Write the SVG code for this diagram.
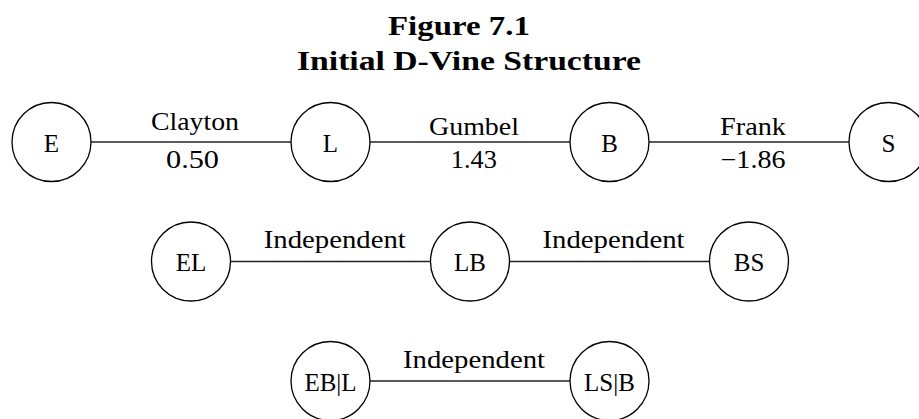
<svg xmlns="http://www.w3.org/2000/svg" width="919" height="419" viewBox="0 0 919 419">
<style>
.title{font-family:"Liberation Serif",serif;font-weight:bold;font-size:27px;fill:#000;text-anchor:middle}
.node circle{fill:#fff;stroke:#000;stroke-width:1.3}
.node text,.lbl{font-family:"Liberation Serif",serif;font-size:25px;fill:#000;text-anchor:middle}
.edges line{stroke:#222;stroke-width:1.4}
</style>
<rect width="919" height="419" fill="#fff"/>
<text class="title" x="459" y="35" textLength="142" lengthAdjust="spacingAndGlyphs">Figure 7.1</text>
<text class="title" x="469" y="70" textLength="344" lengthAdjust="spacingAndGlyphs">Initial D-Vine Structure</text>
<g id="connectors" class="edges">
<line x1="91" y1="142" x2="291" y2="142"/>
<line x1="370" y1="142" x2="570" y2="142"/>
<line x1="649" y1="142" x2="849" y2="142"/>
<line x1="230.5" y1="261.5" x2="430.5" y2="261.5"/>
<line x1="509.5" y1="261.5" x2="709.5" y2="261.5"/>
<line x1="370" y1="381" x2="570" y2="381"/>
</g>
<g id="edge-labels">
<text class="lbl" x="195" y="129.5" textLength="88" lengthAdjust="spacingAndGlyphs">Clayton</text>
<text class="lbl" x="192.5" y="167.5" textLength="53" lengthAdjust="spacingAndGlyphs">0.50</text>
<text class="lbl" x="474" y="134.5" textLength="90" lengthAdjust="spacingAndGlyphs">Gumbel</text>
<text class="lbl" x="473.8" y="167.5" textLength="46" lengthAdjust="spacingAndGlyphs">1.43</text>
<text class="lbl" x="753" y="134.5" textLength="66" lengthAdjust="spacingAndGlyphs">Frank</text>
<text class="lbl" x="753" y="167.5" textLength="65" lengthAdjust="spacingAndGlyphs">−1.86</text>
<text class="lbl" x="334.8" y="248" textLength="142" lengthAdjust="spacingAndGlyphs">Independent</text>
<text class="lbl" x="613.5" y="248" textLength="142" lengthAdjust="spacingAndGlyphs">Independent</text>
<text class="lbl" x="474" y="367.5" textLength="142" lengthAdjust="spacingAndGlyphs">Independent</text>
</g>
<g id="E" class="node"><circle cx="51.5" cy="142" r="39.5"/><text x="51.5" y="151.5">E</text></g>
<g id="L" class="node"><circle cx="330.5" cy="142" r="39.5"/><text x="330.5" y="151.5">L</text></g>
<g id="B" class="node"><circle cx="609.5" cy="142" r="39.5"/><text x="609.5" y="151.5">B</text></g>
<g id="S" class="node"><circle cx="888.5" cy="142" r="39.5"/><text x="888.5" y="151.5">S</text></g>
<g id="EL" class="node"><circle cx="191" cy="261.5" r="39.5"/><text x="191" y="271">EL</text></g>
<g id="LB" class="node"><circle cx="470" cy="261.5" r="39.5"/><text x="470" y="271">LB</text></g>
<g id="BS" class="node"><circle cx="749" cy="261.5" r="39.5"/><text x="749" y="271">BS</text></g>
<g id="EBgL" class="node"><circle cx="330.5" cy="381" r="39.5"/><text x="330.5" y="390.5">EB|L</text></g>
<g id="LSgB" class="node"><circle cx="609.5" cy="381" r="39.5"/><text x="609.5" y="390.5">LS|B</text></g>
</svg>
